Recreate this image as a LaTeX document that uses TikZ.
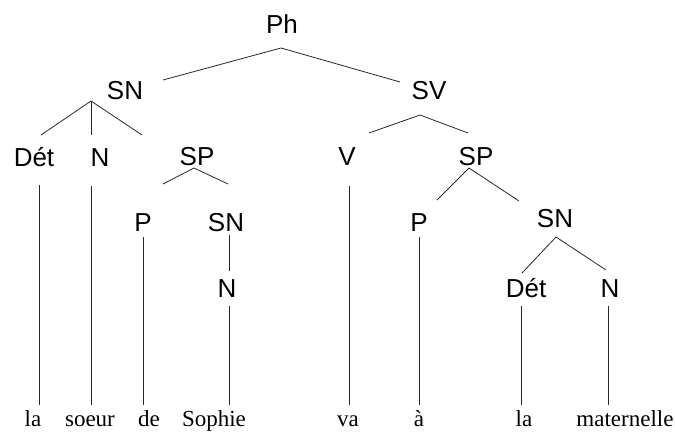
\documentclass[tikz,border=0pt]{standalone}
\usepackage{fontspec}
\setmainfont{Liberation Serif}
\newfontfamily\labfont{Liberation Sans}
\begin{document}
\begin{tikzpicture}[x=1pt,y=-1pt,
  cat/.style={anchor=base,inner sep=0pt,font=\labfont\fontsize{26}{26}\selectfont},
  word/.style={anchor=base,inner sep=0pt,font=\fontsize{23}{23}\selectfont},
  branch/.style={line width=0.8pt,black!85}]
\useasboundingbox (0,0) rectangle (675,432);
% category labels
\node[cat] (Ph)  at (282,33)  {Ph};
\node[cat] (SN1) at (125,99)  {SN};
\node[cat] (SV)  at (429,99)  {SV};
\node[cat] (D1)  at (34,166)  {Dét};
\node[cat] (N1)  at (100,166) {N};
\node[cat] (SP1) at (197,165) {SP};
\node[cat] (V)   at (347,165) {V};
\node[cat] (SP2) at (476,165) {SP};
\node[cat] (P1)  at (143,231) {P};
\node[cat] (SN2) at (226,231) {SN};
\node[cat] (P2)  at (419,231) {P};
\node[cat] (N2)  at (227,297) {N};
\node[cat] (SN3) at (555,227) {SN};
\node[cat] (D2)  at (526,297) {Dét};
\node[cat] (N3)  at (610,297) {N};
% words
\node[word] (w1) at (33,426)  {la};
\node[word] (w2) at (90,426)  {soeur};
\node[word] (w3) at (149,426) {de};
\node[word] (w4) at (214,426) {Sophie};
\node[word] (w5) at (348,426) {va};
\node[word] (w6) at (419,426) {à};
\node[word] (w7) at (524,426) {la};
\node[word] (w8) at (625,426) {maternelle};
% branch points
\coordinate (ph-a) at (281,48);  \coordinate (ph-l) at (163,80);  \coordinate (ph-r) at (400,82);
\coordinate (sn1-a) at (91,101); \coordinate (sn1-l) at (41,135); \coordinate (sn1-m) at (91,135); \coordinate (sn1-r) at (142,135);
\coordinate (sv-a) at (420,115); \coordinate (sv-l) at (369,133); \coordinate (sv-r) at (468,133);
\coordinate (sp1-a) at (194,168); \coordinate (sp1-l) at (163,184); \coordinate (sp1-r) at (228,184);
\coordinate (sp2-a) at (469,168); \coordinate (sp2-l) at (437,200); \coordinate (sp2-r) at (519,201);
\coordinate (sn3-a) at (556,237); \coordinate (sn3-l) at (522,273); \coordinate (sn3-r) at (606,270);
\coordinate (sn2-t) at (229,235); \coordinate (sn2-b) at (229,271);
% vertical stems (top, bottom)
\coordinate (d1-t) at (39,185);  \coordinate (d1-b) at (39,405);
\coordinate (n1-t) at (91,186);  \coordinate (n1-b) at (91,405);
\coordinate (p1-t) at (143,237); \coordinate (p1-b) at (143,405);
\coordinate (n2-t) at (229,306); \coordinate (n2-b) at (229,405);
\coordinate (v-t)  at (349,186); \coordinate (v-b)  at (349,405);
\coordinate (p2-t) at (419,237); \coordinate (p2-b) at (419,405);
\coordinate (d2-t) at (521,306); \coordinate (d2-b) at (521,405);
\coordinate (n3-t) at (608,306); \coordinate (n3-b) at (608,405);
% branches
\draw[branch] (ph-l) -- (ph-a) -- (ph-r);
\draw[branch] (sn1-l) -- (sn1-a) -- (sn1-r);
\draw[branch] (sn1-a) -- (sn1-m);
\draw[branch] (sv-l) -- (sv-a) -- (sv-r);
\draw[branch] (sp1-l) -- (sp1-a) -- (sp1-r);
\draw[branch] (sp2-l) -- (sp2-a) -- (sp2-r);
\draw[branch] (sn3-l) -- (sn3-a) -- (sn3-r);
\draw[branch] (sn2-t) -- (sn2-b);
\draw[branch] (d1-t) -- (d1-b);
\draw[branch] (n1-t) -- (n1-b);
\draw[branch] (p1-t) -- (p1-b);
\draw[branch] (n2-t) -- (n2-b);
\draw[branch] (v-t) -- (v-b);
\draw[branch] (p2-t) -- (p2-b);
\draw[branch] (d2-t) -- (d2-b);
\draw[branch] (n3-t) -- (n3-b);
\end{tikzpicture}
\end{document}
